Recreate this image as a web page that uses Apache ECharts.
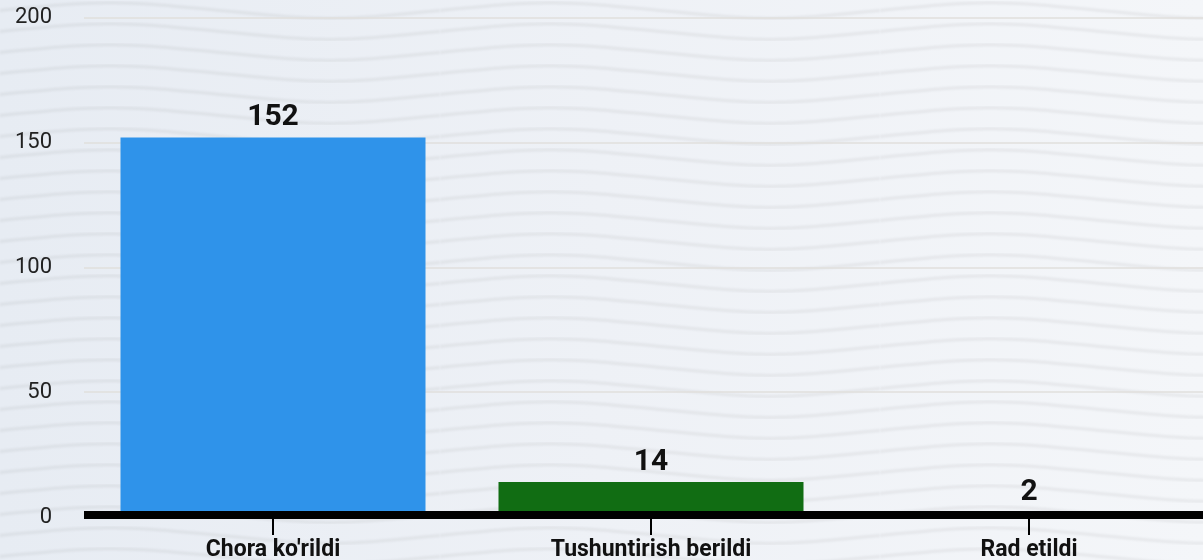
<!DOCTYPE html>
<html>
<head>
<meta charset="utf-8">
<script src="https://cdn.jsdelivr.net/npm/echarts@6/dist/echarts.min.js"></script>
<style>
html,body{margin:0;padding:0;width:1203px;height:560px;overflow:hidden;}
body{
  background-color:#eef1f6;
  background-image:
    url("data:image/svg+xml;utf8,<svg xmlns='http://www.w3.org/2000/svg' width='440' height='21'><defs><filter id='b'><feGaussianBlur stdDeviation='1.2'/></filter></defs><path filter='url(%23b)' d='M0 10.5 C110 0 110 0 220 10.5 S330 21 440 10.5' fill='none' stroke='rgba(0,0,0,0.055)' stroke-width='3'/></svg>"),
    linear-gradient(90deg,#e7ecf3 0%,#eef1f6 50%,#f4f6f9 100%);
  background-repeat:repeat,no-repeat;
}
#c{width:1203px;height:560px;}
</style>
</head>
<body>
<div id="c"></div>
<script>
const categories = ["Chora ko'rildi", "Tushuntirish berildi", "Rad etildi"];
const values = [152, 14, 2];
const barColors = ["#2f93ea", "#116d13", "#8a8a8a"];
const yTicks = [0, 50, 100, 150, 200];

const chart = echarts.init(document.getElementById('c'), null, {renderer: 'canvas'});
chart.setOption({
  backgroundColor: 'transparent',
  animation: false,
  grid: {left: 84, top: 17.5, width: 1134, height: 499.5, containLabel: false, outerBoundsMode: 'none'},
  xAxis: {
    type: 'category',
    data: categories,
    z: 5,
    offset: -2,
    axisLine: {lineStyle: {color: '#000', width: 8, cap: 'butt'}},
    axisTick: {show: true, alignWithLabel: true, length: 20, lineStyle: {color: '#000', width: 2}},
    axisLabel: {color: '#111', fontFamily: 'Roboto', fontWeight: 'bold', fontSize: 23, margin: 24},
    splitLine: {show: false}
  },
  yAxis: {
    type: 'value',
    min: yTicks[0], max: yTicks[yTicks.length - 1], interval: 50,
    axisLine: {show: false},
    axisTick: {show: false},
    axisLabel: {color: '#222', fontFamily: 'Roboto', fontSize: 22, margin: 32},
    splitLine: {lineStyle: {color: '#e0dfdd', width: 1.5}}
  },
  series: [{
    type: 'bar',
    barWidth: 305,
    data: values.map((v, i) => ({value: v, itemStyle: {color: barColors[i]}})),
    label: {show: true, position: 'top', distance: 5, color: '#111', fontFamily: 'Roboto', fontWeight: 'bold', fontSize: 30}
  }]
});
</script>
</body>
</html>
